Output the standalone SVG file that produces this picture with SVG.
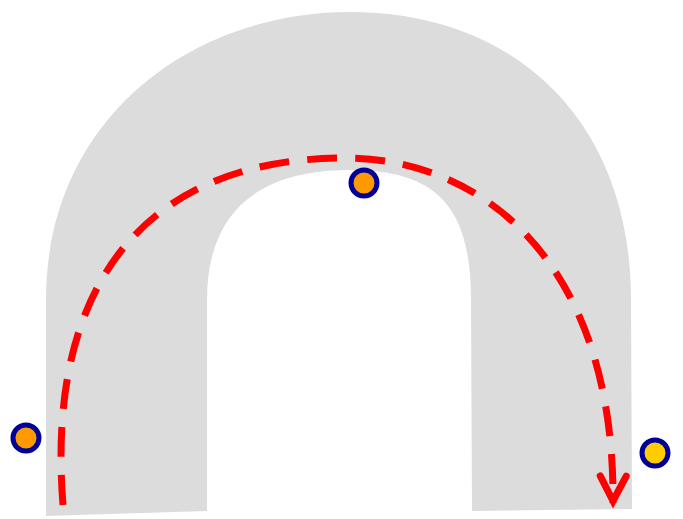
<svg xmlns="http://www.w3.org/2000/svg" width="683" height="519" viewBox="0 0 683 519">
<defs>
<style>
.road{fill:#dcdcdc;stroke:none}
.route{fill:none;stroke:#ff0000;stroke-width:7;stroke-dasharray:30 18}
.pt{stroke:#000099;stroke-width:5}
</style>
<marker id="arr" markerWidth="50" markerHeight="50" viewBox="-40 -25 50 50" refX="0" refY="0" orient="auto" markerUnits="userSpaceOnUse" overflow="visible">
<path d="M-27,-13 L-2,0 L-27,13" fill="none" stroke="#ff0000" stroke-width="7" stroke-linecap="round" stroke-linejoin="miter"/>
</marker>
</defs>
<g id="road">
<path class="road" d="M46,516 L46,300 C46,120 190,12 350,12 C515,12 631,120 631,300 L632,509 L472,511 L471,300 C471,210 440,170 350,170 C255,170 207,215 207,300 L207,511 Z"/>
</g>
<g id="connectors">
<path class="route" d="M63,505 C45,280 150,158 345,158 C480,158 615,260 613,503" marker-end="url(#arr)"/>
</g>
<g id="p1"><circle class="pt" cx="26" cy="438" r="13" fill="#ff9900"/></g>
<g id="p2"><circle class="pt" cx="364" cy="183" r="13" fill="#ff9900"/></g>
<g id="p3"><circle class="pt" cx="655" cy="453" r="13" fill="#ffcc00"/></g>
</svg>
